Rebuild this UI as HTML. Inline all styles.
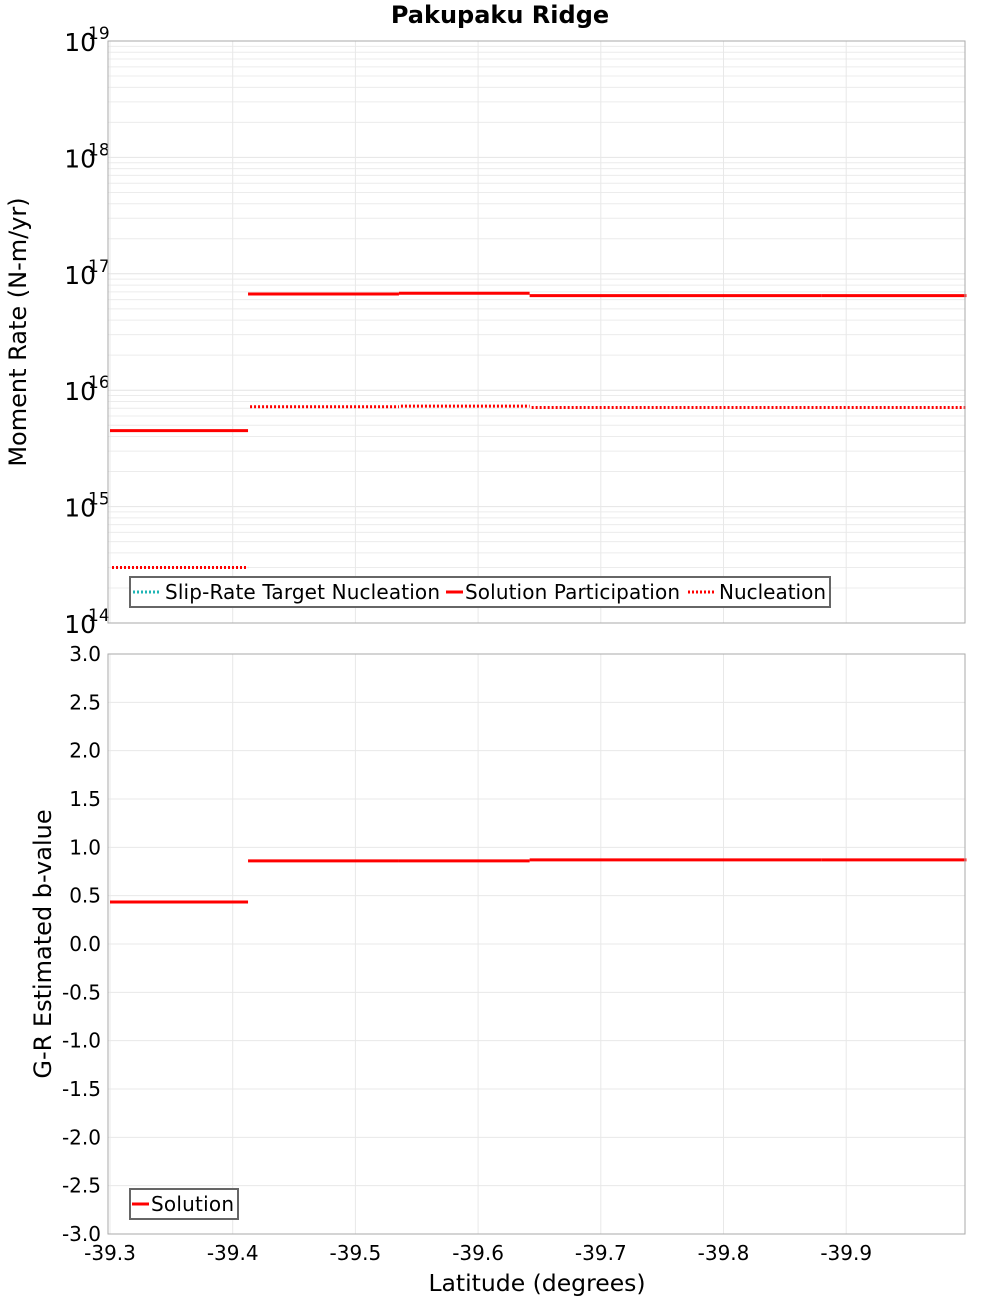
<!DOCTYPE html>
<html><head><meta charset="utf-8"><style>
body{margin:0;background:#fff;}
svg{display:block;font-family:"DejaVu Sans","Liberation Sans",sans-serif;}
</style></head><body>
<svg id="chart" width="1000" height="1300" viewBox="0 0 1000 1300">
<text x="500" y="23" text-anchor="middle" font-weight="bold" font-size="24">Pakupaku Ridge</text>
<g id="topPanel"></g>
<g id="botPanel"></g>
<text transform="translate(26,332) rotate(-90)" text-anchor="middle" font-size="24">Moment Rate (N-m/yr)</text>
<text transform="translate(51,944) rotate(-90)" text-anchor="middle" font-size="24">G-R Estimated b-value</text>
<text x="537" y="1291" text-anchor="middle" font-size="23.5">Latitude (degrees)</text>
</svg>
<script>
const segEdges = [-39.3, -39.4125, -39.5355, -39.642, -39.756, -39.880, -39.998];
const participation = [4.5e15, 6.7e16, 6.8e16, 6.5e16, 6.5e16, 6.5e16];
const nucleation = [3.0e14, 7.2e15, 7.3e15, 7.1e15, 7.1e15, 7.1e15];
const bValues = [0.435, 0.86, 0.86, 0.87, 0.87, 0.87];
const xTicks = [-39.3, -39.4, -39.5, -39.6, -39.7, -39.8, -39.9];
const logTicks = [14, 15, 16, 17, 18, 19];
const bTicks = [3.0, 2.5, 2.0, 1.5, 1.0, 0.5, 0.0, -0.5, -1.0, -1.5, -2.0, -2.5, -3.0];

const NS = "http://www.w3.org/2000/svg";
const L = 108, R = 965;
const xs = v => 110 + (-39.3 - v) * 1227;
const yTop = v => 623 - (Math.log10(v) - 14) * 116.4;
const yBot = v => 944 - v * 96.67;
function mk(parent, tag, attrs) {
  const e = document.createElementNS(NS, tag);
  for (const k in attrs) e.setAttribute(k, attrs[k]);
  parent.appendChild(e); return e;
}
const topG = document.getElementById('topPanel'), botG = document.getElementById('botPanel');

mk(topG, 'rect', {x: L, y: 41, width: R - L, height: 582, fill: '#fff'});
for (let d = 14; d < 19; d++) for (let m = 2; m <= 9; m++) {
  const y = yTop(m * Math.pow(10, d));
  const g = mk(topG, 'line', {x1: L, x2: R, y1: y, y2: y, stroke: '#ececec', 'stroke-width': 1});
  
  
}
logTicks.forEach(t => {
  const y = yTop(Math.pow(10, t));
  const g = mk(topG, 'line', {x1: L, x2: R, y1: y, y2: y, stroke: '#e4e4e4'});
  
  
  const tx = mk(topG, 'text', {x: 96, y: y + 10, 'text-anchor': 'end', 'font-size': 25});
  tx.textContent = '10';
  
  
  const sp = mk(topG, 'text', {x: 88, y: y - 2, 'font-size': 17});
  sp.textContent = String(t);
  
  
});
xTicks.forEach(t => {
  const x = xs(t);
  const g = mk(topG, 'line', {x1: x, x2: x, y1: 41, y2: 623, stroke: '#e8e8e8'});
  
  
});
participation.forEach((v, i) => {
  const l = mk(topG, 'line', {x1: xs(segEdges[i]), x2: xs(segEdges[i + 1]), y1: yTop(v), y2: yTop(v), stroke: '#ff0000', 'stroke-width': 3});
  
  
});
nucleation.forEach((v, i) => {
  const l = mk(topG, 'line', {x1: xs(segEdges[i]) + 2, x2: xs(segEdges[i + 1]), y1: yTop(v), y2: yTop(v), stroke: '#ff0000', 'stroke-width': 3, 'stroke-dasharray': '2,2'});
  
  
});
mk(topG, 'rect', {x: L, y: 41, width: R - L, height: 582, fill: 'none', stroke: '#aaa'});
const lg = mk(topG, 'g', {});


mk(lg, 'rect', {x: 130, y: 577, width: 700, height: 30, fill: '#fff', stroke: '#666', 'stroke-width': 2});
mk(lg, 'line', {x1: 133, x2: 161, y1: 592, y2: 592, stroke: '#1fb5b5', 'stroke-width': 3, 'stroke-dasharray': '2,2'});
let t1 = mk(lg, 'text', {x: 165, y: 599, 'font-size': 20, textLength: 275}); t1.textContent = 'Slip-Rate Target Nucleation';
mk(lg, 'line', {x1: 446, x2: 463, y1: 592, y2: 592, stroke: '#ff0000', 'stroke-width': 3});
let t2 = mk(lg, 'text', {x: 465, y: 599, 'font-size': 20, textLength: 215}); t2.textContent = 'Solution Participation';
mk(lg, 'line', {x1: 688, x2: 716, y1: 592, y2: 592, stroke: '#ff0000', 'stroke-width': 3, 'stroke-dasharray': '2,2'});
let t3 = mk(lg, 'text', {x: 719, y: 599, 'font-size': 20, textLength: 107}); t3.textContent = 'Nucleation';

bTicks.forEach(t => {
  const y = yBot(t);
  const g = mk(botG, 'line', {x1: L, x2: R, y1: y, y2: y, stroke: '#e8e8e8'});
  
  
  const tx = mk(botG, 'text', {x: 101, y: y + 7, 'text-anchor': 'end', 'font-size': 20});
  tx.textContent = t.toFixed(1);
  
  
});
xTicks.forEach(t => {
  const x = xs(t);
  const g = mk(botG, 'line', {x1: x, x2: x, y1: 654, y2: 1234, stroke: '#e8e8e8'});
  
  
  const tx = mk(botG, 'text', {x: x, y: 1260, 'text-anchor': 'middle', 'font-size': 20});
  tx.textContent = t.toFixed(1);
  
  
});
bValues.forEach((v, i) => {
  const l = mk(botG, 'line', {x1: xs(segEdges[i]), x2: xs(segEdges[i + 1]), y1: yBot(v), y2: yBot(v), stroke: '#ff0000', 'stroke-width': 3});
  
  
});
mk(botG, 'rect', {x: L, y: 654, width: R - L, height: 580, fill: 'none', stroke: '#aaa'});
const lg2 = mk(botG, 'g', {});


mk(lg2, 'rect', {x: 130, y: 1189, width: 108, height: 30, fill: '#fff', stroke: '#666', 'stroke-width': 2});
mk(lg2, 'line', {x1: 132, x2: 149, y1: 1204, y2: 1204, stroke: '#ff0000', 'stroke-width': 3});
let t4 = mk(lg2, 'text', {x: 151, y: 1211, 'font-size': 20, textLength: 83}); t4.textContent = 'Solution';
</script>
</body></html>
